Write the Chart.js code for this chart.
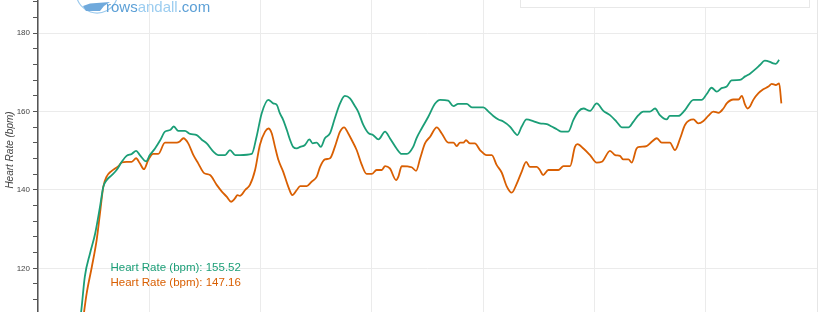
<!DOCTYPE html>
<html>
<head>
<meta charset="utf-8">
<script src="https://cdn.jsdelivr.net/npm/chart.js@4/dist/chart.umd.min.js"></script>
<style>
  html, body { margin: 0; padding: 0; background: #ffffff; overflow: hidden; }
  #wrap { width: 820px; height: 312px; position: relative; }
</style>
</head>
<body>
<div id="wrap"><canvas id="c" width="820" height="312"></canvas></div>
<script>
// ---- Data (time in seconds, heart rate in bpm) ----
const timeGreen = [8,22,32,46,60,73,82,91,105,118,132,145,159,171,181,198,208,222,236,249,263,273,285,303,317,335,348,362,380,393,412,425,439,452,484,497,511,529,542,552,560,569,579,588,596,606,615,628,640,649,660,671,682,696,709,723,736,750,764,772,786,800,813,827,845,858,876,890,904,921,930,944,962,980,994,1016,1030,1043,1066,1080,1111,1125,1138,1152,1165,1183,1197,1203,1215,1228,1246,1264,1283,1296,1310,1323,1341,1355,1368,1382,1400,1418,1436,1454,1472,1486,1504,1517,1531,1544,1562,1576,1589,1607,1616,1639,1657,1680,1702,1716,1729,1743,1756,1770,1783,1806,1820,1833,1851,1860,1873,1887,1896,1903,1912];
const hrGreen = [100,108.9,117.9,123.8,128.9,135.7,140.8,142.5,143.8,145.1,147.2,148.7,149.2,150,148.9,147.3,148.9,150.6,152.7,154.9,155.3,156.2,155.1,155.1,154.3,154,152.9,151.9,149.8,148.9,148.9,150.2,148.9,148.9,149.2,153.6,159.6,163,162.1,161.7,159.6,157.9,155.3,152.7,151,150.6,151,151.5,152.9,151.9,152.1,151,153.2,154.5,158.3,162.1,164,163.4,161.3,160,156.6,154.5,154,152.9,154.9,153.2,150.6,149.2,149.2,151,153.2,155.7,158.7,162,163,162.8,161.4,162,162,161.1,161.1,160,158.9,158,157.5,156.2,154.5,154,156.2,158,157.6,157,156.8,156.2,155.5,154.9,154.9,157.9,160,160.8,160.2,162.1,160.2,159.1,157.4,156,156,157.4,159.1,160,160,160.8,159.1,158,158.9,158.9,160.4,163,163,164.5,166.1,165.1,166,166.4,168,168.1,169,169.7,171.1,171.9,173,172.7,172.3,172.2,173.2];

const timeOrange = [16,30,37,51,64,73,82,91,105,114,123,132,145,159,171,181,192,204,217,231,249,263,281,288,299,312,326,339,355,371,389,403,416,428,439,445,452,466,479,493,506,520,529,538,547,556,569,583,594,606,615,633,646,660,669,682,696,709,723,734,745,755,768,782,795,809,822,836,845,858,875,881,890,917,929,940,953,967,985,998,1016,1030,1039,1048,1057,1064,1075,1088,1102,1120,1134,1147,1161,1174,1188,1201,1215,1227,1237,1256,1264,1273,1287,1314,1328,1346,1359,1366,1382,1400,1418,1432,1454,1468,1481,1490,1504,1513,1526,1535,1553,1567,1581,1594,1616,1630,1644,1657,1680,1693,1707,1720,1734,1748,1761,1770,1788,1802,1811,1820,1826,1833,1842,1856,1869,1883,1892,1903,1912,1918];
const hrOrange = [98,108.9,113.6,120.4,127.2,134,140.8,143.4,144.9,145.5,146.1,147,147.2,147.2,148.1,146.8,145.3,147.7,149.2,149.2,152.1,152.1,152.1,152.3,153.2,151.9,148.9,146.8,144.3,143.8,141.3,139.6,138.3,137,137.9,138.7,138.5,140,141.3,145.1,151.5,154.9,155.7,154.5,151,147.7,144.7,140.8,138.7,140,141,141,142.1,143.4,145.9,147.8,148.1,151,154.9,156,154.5,152.7,150.2,146.4,144.1,144.1,145.1,145.1,146.1,145.5,142.5,143.4,146.1,145.8,144.9,148.1,151.9,153.6,156,154.5,152.1,152.1,151.2,152.1,152.1,152.7,151.9,151.9,150.2,148.9,148.9,146.4,144.4,141,139.3,141.5,144.7,147.2,145.9,145.9,145.1,143.8,145.1,145.1,146.1,146.1,151,151.7,150.6,148.9,147,147.2,150,148.9,148.7,147.8,147.8,147,150.6,151,151.2,152.3,153.2,152.1,152.1,150.2,153.2,156.6,158,157,157.6,158.9,160,159.7,160.8,162.1,163.1,163.1,164,161.7,160.8,161.3,163,164.7,165.7,166.4,167.1,166.8,167.2,162.1];

const seriesNames = ['Heart Rate (bpm)', 'Heart Rate (bpm)'];
const seriesAverages = [155.52, 147.16];
const seriesColors = ['#1b9e77', '#d95f02'];
const yMajorTicks = [120, 140, 160, 180];
const yTitle = 'Heart Rate (bpm)';
const watermarkParts = ['rows', 'andall', '.com'];

// ---- Plugin for the extra decorations ----
const decor = {
  id: 'decor',
  afterDatasetsDraw(chart) {
    const ctx = chart.ctx;
    const a = chart.chartArea;
    ctx.save();
    // right frame line
    ctx.strokeStyle = '#e6e6e6';
    ctx.lineWidth = 1;
    ctx.beginPath();
    ctx.moveTo(a.right + 0.5, a.top);
    ctx.lineTo(a.right + 0.5, a.bottom);
    ctx.stroke();

    // legend box (cut off at top)
    ctx.fillStyle = '#ffffff';
    ctx.fillRect(520.5, -10, 289, 17.5);
    ctx.strokeStyle = '#e8e8e8';
    ctx.strokeRect(520.5, -10, 289, 17.5);

    // watermark logo
    ctx.strokeStyle = '#9dcbee';
    ctx.lineWidth = 1.2;
    ctx.beginPath();
    ctx.arc(97, -8, 21, Math.PI * 0.1, Math.PI * 0.95);
    ctx.stroke();
    ctx.fillStyle = '#6fa9dc';
    ctx.beginPath();
    ctx.moveTo(83, 6);
    ctx.lineTo(90, 3.5);
    ctx.lineTo(110, 2);
    ctx.lineTo(104, 6);
    ctx.lineTo(100, 11);
    ctx.lineTo(86, 11);
    ctx.closePath();
    ctx.fill();

    // watermark text
    ctx.textBaseline = 'alphabetic';
    ctx.textAlign = 'left';
    let x = 106;
    const cols = ['#5b9fd6', '#9ccdf0', '#5b9fd6'];
    const weights = ['normal', '300', 'normal'];
    watermarkParts.forEach((p, i) => {
      ctx.font = weights[i] + ' 15px "Liberation Sans", Arial, sans-serif';
      ctx.fillStyle = cols[i];
      ctx.fillText(p, x, 11.5);
      x += ctx.measureText(p).width;
    });

    // y-axis title
    ctx.save();
    ctx.translate(10, 150);
    ctx.rotate(-Math.PI / 2);
    ctx.font = 'italic 10px "Liberation Sans", Arial, sans-serif';
    ctx.fillStyle = '#444444';
    ctx.textAlign = 'center';
    ctx.textBaseline = 'middle';
    ctx.fillText(yTitle, 0, 0);
    ctx.restore();

    // average annotations
    ctx.font = '11.5px "Liberation Sans", Arial, sans-serif';
    ctx.textAlign = 'left';
    ctx.textBaseline = 'middle';
    seriesAverages.forEach((v, i) => {
      ctx.fillStyle = seriesColors[i];
      ctx.fillText(seriesNames[i] + ': ' + v.toFixed(2), 110.5, 268 + i * 15);
    });
    ctx.restore();
  }
};

new Chart(document.getElementById('c'), {
  type: 'line',
  data: {
    datasets: [
      {
        label: seriesNames[0],
        data: timeGreen.map((t, i) => ({ x: t, y: hrGreen[i] })),
        borderColor: seriesColors[0],
        borderWidth: 1.8,
        pointRadius: 0,
        cubicInterpolationMode: 'monotone',
        fill: false
      },
      {
        label: seriesNames[1],
        data: timeOrange.map((t, i) => ({ x: t, y: hrOrange[i] })),
        borderColor: seriesColors[1],
        borderWidth: 1.8,
        pointRadius: 0,
        cubicInterpolationMode: 'monotone',
        fill: false
      }
    ]
  },
  options: {
    responsive: false,
    animation: false,
    devicePixelRatio: 1,
    layout: { padding: { left: 0, right: 3, top: 0, bottom: 0 } },
    plugins: { legend: { display: false }, tooltip: { enabled: false } },
    scales: {
      x: {
        type: 'linear',
        min: -94.8,
        max: 2014.5,
        ticks: { display: false, stepSize: 300, includeBounds: false },
        grid: { color: '#ebebeb', drawTicks: false, lineWidth: 1 },
        border: { display: false },
        afterFit: (s) => { s.height = 0; s.paddingLeft = 0; s.paddingRight = 0; s.paddingTop = 0; s.paddingBottom = 0; }
      },
      y: {
        min: 108.85,
        max: 188.5,
        ticks: {
          stepSize: 4,
          includeBounds: false,
          autoSkip: false,
          padding: 3,
          color: '#444444',
          font: { size: 8, family: '"Liberation Sans", Arial, sans-serif' },
          callback: (v) => yMajorTicks.includes(v) ? String(v) : ''
        },
        grid: {
          color: (c) => (c.tick && yMajorTicks.includes(c.tick.value)) ? '#ebebeb' : 'rgba(0,0,0,0)',
          tickColor: '#555555',
          tickLength: 5,
          lineWidth: 1
        },
        border: { color: '#555555', width: 1.5 },
        afterFit: (s) => { s.width = 38; s.paddingTop = 0; s.paddingBottom = 0; s.paddingLeft = 0; s.paddingRight = 0; }
      }
    }
  },
  plugins: [decor]
});
</script>
</body>
</html>
